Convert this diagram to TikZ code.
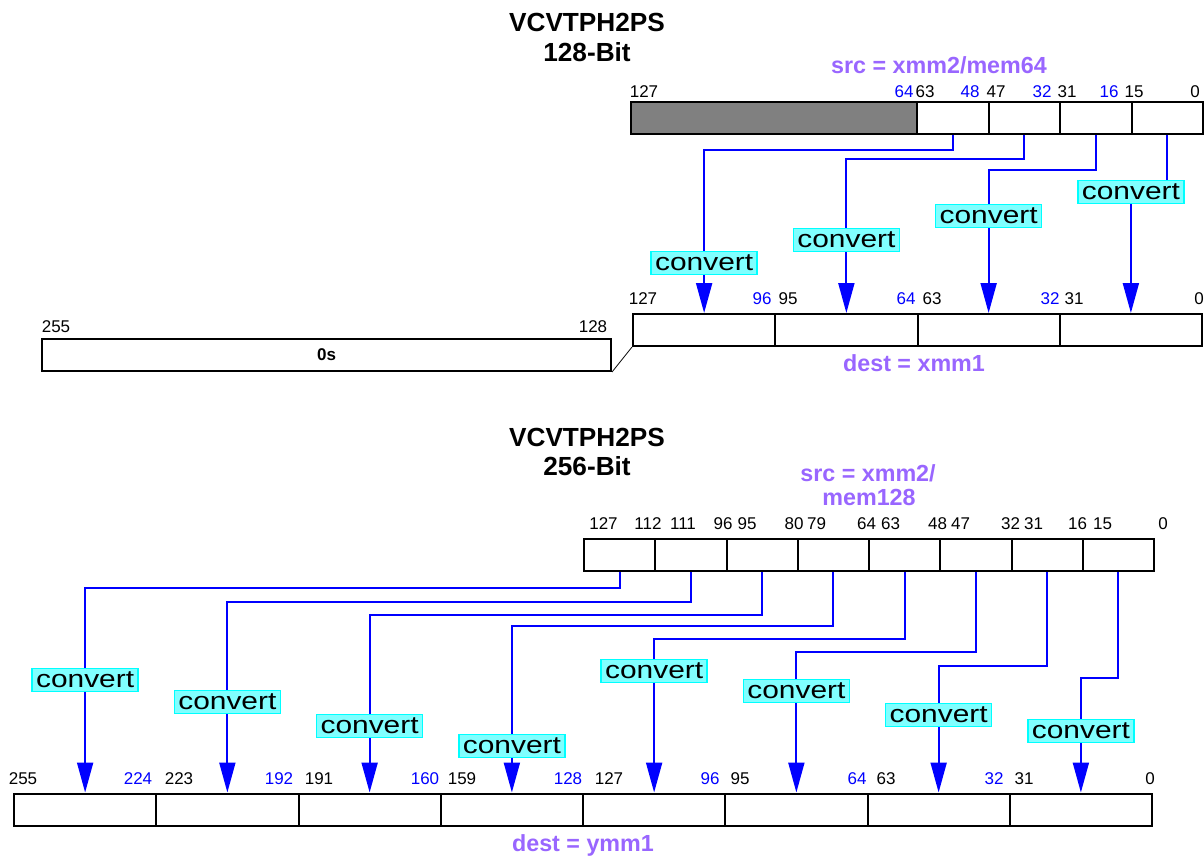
\documentclass[tikz,border=0pt]{standalone}
\usepackage{fontspec}
\setmainfont{Liberation Sans}
\usetikzlibrary{arrows.meta}
\definecolor{tagpurple}{HTML}{9966FF}
\definecolor{convfill}{HTML}{80FFFF}
\definecolor{convline}{HTML}{00FFFF}
\definecolor{shade}{HTML}{808080}
\newcommand\bitfont{\fontsize{17}{20}\selectfont}
\newcommand\convfont{\fontsize{24.5}{28}\selectfont}
\newcommand\tagfont{\fontsize{23.3}{26}\selectfont\bfseries}
\newcommand\ttlfont{\fontsize{26.2}{30}\selectfont\bfseries}
\tikzset{
  cell/.style={draw, line width=2pt, fill=white, inner sep=0pt, minimum height=32pt},
  bit/.style={font=\bitfont, anchor=base, inner sep=0pt},
  conv/.style={draw=convline, fill=convfill, line width=1.6pt, inner xsep=4pt,
    inner ysep=0pt, minimum height=23pt, font=\convfont},
  flow/.style={draw=blue, line width=2pt, -{Triangle[length=30pt,width=16pt]}},
  tag/.style={font=\tagfont, text=tagpurple, anchor=base, inner sep=0pt},
  ttl/.style={font=\ttlfont, anchor=base, inner sep=0pt}
}
\begin{document}
\begin{tikzpicture}[x=1pt,y=-1pt]
  \useasboundingbox (0,0) rectangle (1204,859);
  % ---- 128-bit form ----
  \node[ttl] (ttlA) at (587,31.7) {VCVTPH2PS};
  \node[ttl] (ttlAb) at (587,61.7) {128-Bit};
  \node[tag] (srcA) at (939,73.3) {src = xmm2/mem64};
  % source register (upper half unused)
  \node[cell, fill=shade, minimum width=286pt] (tgrey) at (774,117.5) {};
  \foreach \i in {0,...,3}
    \node[cell, minimum width=71.5pt] (tsrc\i) at ({952.75+71.5*\i},117.5) {};
  \foreach \t/\x/\c in {127/644/black, 64/904/blue, 63/925/black, 48/970/blue,
      47/996/black, 32/1042/blue, 31/1067/black, 16/1109/blue, 15/1134/black, 0/1195/black}
    \node[bit, text=\c] (tsb\t) at (\x,97) {\t};
  % destination register and zeroed upper part
  \foreach \i in {0,...,3}
    \node[cell, minimum width=142.25pt] (tdst\i) at ({704.125+142.25*\i},330) {};
  \foreach \t/\x/\c in {127/643/black, 96/762/blue, 95/788/black, 64/906/blue,
      63/932/black, 32/1050/blue, 31/1074/black, 0/1199/black}
    \node[bit, text=\c] (tdb\t) at (\x,304) {\t};
  \node[cell, minimum width=569pt, font=\bitfont\bfseries] (tzero) at (326.5,355) {0s};
  \node[bit] (tzb255) at (56,332) {255};
  \node[bit] (tzb128) at (593,332) {128};
  \draw[line width=0.8pt] (tzero.south east) -- (tdst0.south west);
  \node[tag] (dstA) at (914,371.7) {dest = xmm1};
  % conversions
  \foreach \i/\lvl/\cy in {0/15/263, 1/24/240, 2/35/216, 3/47/192} {
    \draw[flow] (tsrc\i.south) -- ++(0,\lvl) -| (tdst\i.north);
    \node[conv] (tcv\i) at (tdst\i.north |- 0,\cy) {\scalebox{1.22}[1]{convert}};
  }
  % ---- 256-bit form ----
  \node[ttl] (ttlB) at (587,446.7) {VCVTPH2PS};
  \node[ttl] (ttlBb) at (587,475.7) {256-Bit};
  \node[tag] (srcB) at (868,481.7) {src = xmm2/};
  \node[tag] (srcBb) at (869,505) {mem128};
  \foreach \i in {0,...,7}
    \node[cell, minimum width=71.25pt] (bsrc\i) at ({619.625+71.25*\i},555) {};
  \foreach \t/\x in {127/603.5, 112/648, 111/683, 96/723, 95/747, 80/794, 79/816.5,
      64/866.5, 63/890.5, 48/937.5, 47/960.5, 32/1010.5, 31/1033.5, 16/1077.5,
      15/1102.5, 0/1163}
    \node[bit] (bsb\t) at (\x,529) {\t};
  \foreach \i in {0,...,7}
    \node[cell, minimum width=142.25pt] (bdst\i) at ({85.125+142.25*\i},809.5) {};
  \foreach \t/\x/\c in {255/23/black, 224/138/blue, 223/179/black, 192/279/blue,
      191/319/black, 160/425/blue, 159/462/black, 128/568/blue, 127/609/black,
      96/710/blue, 95/740/black, 64/857/blue, 63/886/black, 32/994/blue,
      31/1024/black, 0/1150/black}
    \node[bit, text=\c] (bdb\t) at (\x,784) {\t};
  \node[tag] (dstB) at (583,851) {dest = ymm1};
  % conversions
  \foreach \i/\lvl/\cy in {0/16/680, 1/30/702, 2/43/726, 3/54/746,
      4/67/671, 5/80/691, 6/94/715, 7/106/731} {
    \draw[flow] (bsrc\i.south) -- ++(0,\lvl) -| (bdst\i.north);
    \node[conv] (bcv\i) at (bdst\i.north |- 0,\cy) {\scalebox{1.22}[1]{convert}};
  }
\end{tikzpicture}
\end{document}
